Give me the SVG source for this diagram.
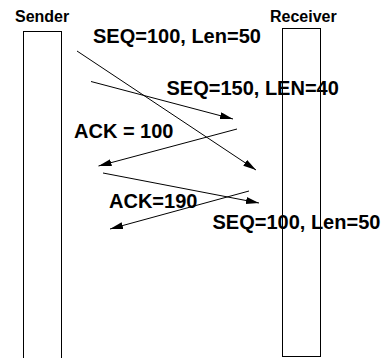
<svg xmlns="http://www.w3.org/2000/svg" width="386" height="358" viewBox="0 0 386 358">
<style>
.box{fill:none;stroke:#000;stroke-width:1}
.t{font-family:"Liberation Sans",Arial,sans-serif;font-weight:bold;fill:#000}
.h{font-size:16px}
.l{font-size:20px}
.c{stroke:#000;stroke-width:1;fill:none;marker-end:url(#ah)}
</style>
<defs>
<marker id="ah" markerUnits="userSpaceOnUse" markerWidth="14" markerHeight="8" refX="13" refY="3.5" orient="auto">
<path d="M0,0 L13,3.5 L0,7 Z" fill="#000"/>
</marker>
</defs>
<g id="sender">
<rect class="box" x="23.5" y="31.5" width="38" height="340"/>
<text class="t h" x="15" y="21.5">Sender</text>
</g>
<g id="receiver">
<rect class="box" x="282.5" y="28.5" width="38" height="328"/>
<text class="t h" x="270" y="21.5">Receiver</text>
</g>
<g id="connectors">
<line class="c" x1="77" y1="51" x2="256" y2="170"/>
<line class="c" x1="91" y1="81.5" x2="233" y2="119"/>
<line class="c" x1="237" y1="129" x2="98.5" y2="166"/>
<line class="c" x1="103" y1="173" x2="259" y2="203"/>
<line class="c" x1="249" y1="191" x2="110" y2="229"/>
</g>
<g id="labels">
<text class="t l" x="93" y="43">SEQ=100, Len=50</text>
<text class="t l" x="166.5" y="95">SEQ=150, LEN=40</text>
<text class="t l" x="74" y="138">ACK = 100</text>
<text class="t l" x="109" y="208">ACK=190</text>
<text class="t l" x="212.5" y="229">SEQ=100, Len=50</text>
</g>
</svg>
